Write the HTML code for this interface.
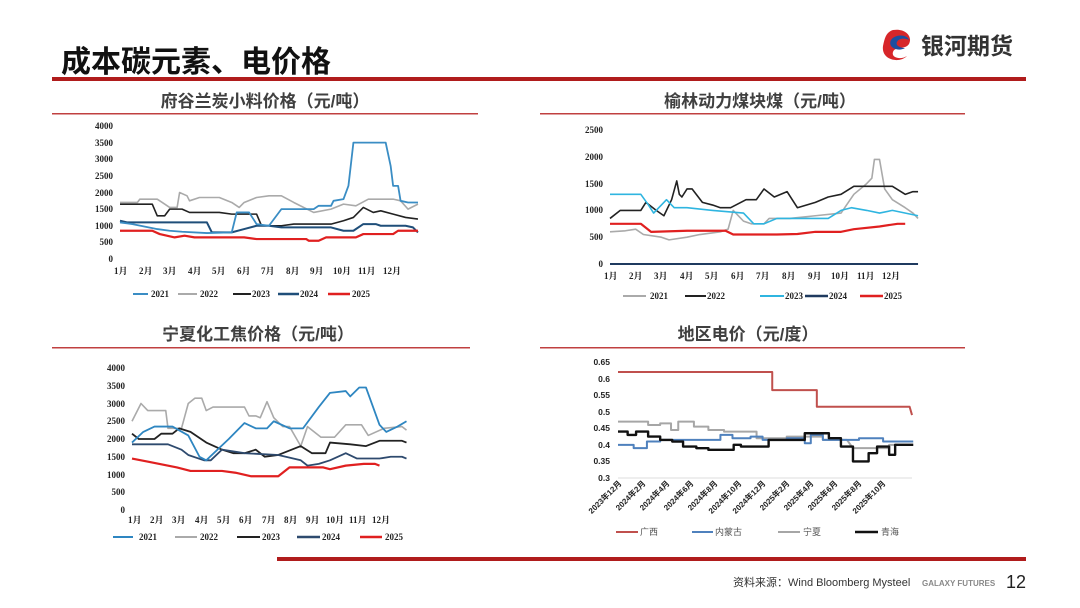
<!DOCTYPE html>
<html><head><meta charset="utf-8"><style>
html,body{margin:0;padding:0;background:#fff;}
svg{display:block}
.t{font-family:"Liberation Sans","Noto Sans CJK SC",sans-serif;}
.ax{font-family:"Liberation Serif","Noto Serif CJK SC",serif;font-weight:bold;font-size:9px;fill:#222;}
.ct{font-family:"Liberation Sans","Noto Sans CJK SC",sans-serif;font-weight:bold;font-size:17px;fill:#404040;}
polyline{fill:none;vector-effect:non-scaling-stroke;stroke-linejoin:round;}
</style></head><body>
<svg width="1080" height="608" viewBox="0 0 1080 608" xmlns="http://www.w3.org/2000/svg">
<!-- header -->
<text x="61" y="72" class="t" style="font-size:30px;font-weight:bold;fill:#111">成本碳元素、电价格</text>
<rect x="52" y="77" width="974" height="4" fill="#b01c1c"/>
<g transform="translate(897,44)">
<path d="M-4,-14 C8,-16 16,-8 12,0 C8,6 -2,2 -4,8 C-6,14 4,16 10,12 C2,20 -16,16 -14,2 C-12,-8 -10,-12 -4,-14Z" fill="#d7262a"/>
<path d="M-6,-4 C-2,-10 10,-10 12,-4 C8,-6 2,-6 0,-2 C-2,2 4,4 8,4 C2,8 -10,4 -6,-4Z" fill="#1d4ea0"/>
</g>
<text x="921" y="54" class="t" style="font-size:23px;font-weight:bold;fill:#333">银河期货</text>

<!-- chart titles -->
<text x="265" y="107" text-anchor="middle" class="ct">府谷兰炭小料价格（元/吨）</text>
<rect x="52" y="113" width="426" height="1.5" fill="#c04040"/>
<text x="760" y="107" text-anchor="middle" class="ct">榆林动力煤块煤（元/吨）</text>
<rect x="540" y="113" width="425" height="1.5" fill="#c04040"/>
<text x="258" y="340" text-anchor="middle" class="ct">宁夏化工焦价格（元/吨）</text>
<rect x="52" y="347" width="418" height="1.5" fill="#c04040"/>
<text x="748" y="340" text-anchor="middle" class="ct">地区电价（元/度）</text>
<rect x="540" y="347" width="425" height="1.5" fill="#c04040"/>

<!-- Chart 1 -->
<g class="ax" text-anchor="end">
<text x="113" y="129">4000</text><text x="113" y="146">3500</text><text x="113" y="162">3000</text><text x="113" y="179">2500</text><text x="113" y="196">2000</text><text x="113" y="212">1500</text><text x="113" y="229">1000</text><text x="113" y="245">500</text><text x="113" y="262">0</text>
</g>
<g class="ax">
<text x="114" y="274">1月</text><text x="139" y="274">2月</text><text x="163" y="274">3月</text><text x="188" y="274">4月</text><text x="212" y="274">5月</text><text x="237" y="274">6月</text><text x="261" y="274">7月</text><text x="286" y="274">8月</text><text x="310" y="274">9月</text><text x="333" y="274">10月</text><text x="358" y="274">11月</text><text x="383" y="274">12月</text>
</g>
<g transform="translate(120,259) scale(24.83,-0.03325)">
<polyline stroke="#aaaaaa" stroke-width="1.6" points="0,1700 0.7,1700 0.8,1800 1.5,1800 1.7,1700 2,1550 2.3,1550 2.4,2000 2.7,1900 2.8,1750 3.2,1850 4,1850 4.5,1700 4.8,1550 5,1700 5.5,1850 6,1900 6.5,1900 7,1700 7.8,1400 8.5,1500 9,1650 9.5,1600 10,1800 11,1800 11.3,1750 11.6,1500 12,1650"/>
<polyline stroke="#222" stroke-width="1.6" points="0,1650 1.3,1650 1.5,1300 1.8,1300 2,1500 2.5,1500 2.8,1400 4,1400 4.5,1350 5.5,1350 5.7,1000 6.5,1000 7,1050 8.5,1050 9,1150 9.4,1250 9.8,1550 10.2,1400 10.5,1450 11,1350 11.5,1250 12,1200"/>
<polyline stroke="#1f4e79" stroke-width="2" points="0,1150 0.3,1100 3.5,1100 3.7,800 4.5,800 5,900 5.5,1000 6,1000 6.5,950 8.5,950 9,850 9.4,850 9.8,1050 10.3,1050 10.5,1000 11.5,1000 11.8,950 12,800"/>
<polyline stroke="#3a8dc4" stroke-width="1.8" points="0,1100 0.5,1050 1.5,900 2,850 2.5,820 3.5,780 4.5,800 4.7,1400 5.2,1400 5.5,1050 6,1000 6.5,1500 7.8,1500 8,1600 8.5,1600 8.6,1750 9,1800 9.2,2200 9.4,3500 10.7,3500 10.9,2800 11,2200 11.2,2200 11.3,1750 11.6,1700 12,1700"/>
<polyline stroke="#e02020" stroke-width="2.2" points="0,850 1.3,850 1.6,750 2.2,650 2.6,700 3,650 5,650 5.5,600 7.5,600 7.6,550 8,550 8.3,650 9.5,650 9.8,750 11,750 11.2,850 12.0,850"/>
</g>
<g class="ax">
<line x1="133" y1="294" x2="148" y2="294" stroke="#3a8dc4" stroke-width="2"/><text x="151" y="297">2021</text>
<line x1="178" y1="294" x2="197" y2="294" stroke="#aaa" stroke-width="2"/><text x="200" y="297">2022</text>
<line x1="233" y1="294" x2="251" y2="294" stroke="#222" stroke-width="2"/><text x="252" y="297">2023</text>
<line x1="278" y1="294" x2="299" y2="294" stroke="#1f4e79" stroke-width="2.5"/><text x="300" y="297">2024</text>
<line x1="328" y1="294" x2="350" y2="294" stroke="#e02020" stroke-width="2.5"/><text x="352" y="297">2025</text>
</g>

<!-- Chart 2 -->
<g class="ax" text-anchor="end">
<text x="603" y="133">2500</text><text x="603" y="160">2000</text><text x="603" y="187">1500</text><text x="603" y="213">1000</text><text x="603" y="240">500</text><text x="603" y="267">0</text>
</g>
<g class="ax">
<text x="604" y="279">1月</text><text x="629" y="279">2月</text><text x="654" y="279">3月</text><text x="680" y="279">4月</text><text x="705" y="279">5月</text><text x="731" y="279">6月</text><text x="756" y="279">7月</text><text x="782" y="279">8月</text><text x="808" y="279">9月</text><text x="831" y="279">10月</text><text x="857" y="279">11月</text><text x="882" y="279">12月</text>
</g>
<g transform="translate(610,264) scale(25.67,-0.0536)">
<polyline stroke="#1f3a5f" stroke-width="2" points="0,0 12,0"/>
<polyline stroke="#aaaaaa" stroke-width="1.6" points="0,600 0.6,620 1,650 1.3,550 2,500 2.3,450 3,500 3.5,550 4.3,600 4.6,650 4.8,1000 5.2,800 5.5,750 6,750 6.2,850 7,850 8,900 9,950 9.5,1300 10,1500 10.2,1600 10.3,1950 10.5,1950 10.7,1400 11,1200 11.5,1050 11.8,950 12,850"/>
<polyline stroke="#222" stroke-width="1.6" points="0,850 0.4,1000 1.2,1000 1.4,1150 1.8,1000 2.1,900 2.4,1200 2.6,1550 2.7,1300 2.8,1250 3,1400 3.2,1400 3.6,1150 4,1100 4.3,1050 4.7,1050 5.3,1200 5.7,1200 6,1400 6.4,1250 6.9,1350 7.3,1050 8,1150 8.5,1250 9,1300 9.5,1450 11,1450 11.5,1300 11.8,1350 12,1350"/>
<polyline stroke="#2fb5e0" stroke-width="1.6" points="0,1300 1.2,1300 1.5,1100 1.7,950 2,1100 2.2,1200 2.5,1050 3,1050 4,1000 5.2,950 5.6,750 6,750 6.5,850 7.5,850 8.5,850 9,1000 9.4,1050 10,1000 10.5,950 11,1000 12,900"/>
<polyline stroke="#e02020" stroke-width="2.2" points="0,750 1.2,750 1.6,600 3,620 4.5,620 4.8,550 6.5,550 7.3,560 8,600 9,600 9.5,650 10.5,700 11.2,750 11.5,750"/>
</g>
<g class="ax">
<line x1="623" y1="296" x2="646" y2="296" stroke="#aaa" stroke-width="2"/><text x="650" y="299">2021</text>
<line x1="685" y1="296" x2="706" y2="296" stroke="#222" stroke-width="2"/><text x="707" y="299">2022</text>
<line x1="760" y1="296" x2="784" y2="296" stroke="#2fb5e0" stroke-width="2"/><text x="785" y="299">2023</text>
<line x1="805" y1="296" x2="828" y2="296" stroke="#1f3a5f" stroke-width="2.5"/><text x="829" y="299">2024</text>
<line x1="860" y1="296" x2="883" y2="296" stroke="#e02020" stroke-width="2.5"/><text x="884" y="299">2025</text>
</g>

<!-- Chart 3 -->
<g class="ax" text-anchor="end">
<text x="125" y="371">4000</text><text x="125" y="389">3500</text><text x="125" y="407">3000</text><text x="125" y="424">2500</text><text x="125" y="442">2000</text><text x="125" y="460">1500</text><text x="125" y="478">1000</text><text x="125" y="495">500</text><text x="125" y="513">0</text>
</g>
<g class="ax">
<text x="128" y="523">1月</text><text x="150" y="523">2月</text><text x="172" y="523">3月</text><text x="195" y="523">4月</text><text x="217" y="523">5月</text><text x="239" y="523">6月</text><text x="262" y="523">7月</text><text x="284" y="523">8月</text><text x="306" y="523">9月</text><text x="326" y="523">10月</text><text x="349" y="523">11月</text><text x="372" y="523">12月</text>
</g>
<g transform="translate(132,510) scale(22.5,-0.0355)">
<polyline stroke="#aaaaaa" stroke-width="1.6" points="0,2500 0.4,3000 0.7,2800 1.5,2800 1.6,2300 2.2,2300 2.5,3000 2.8,3150 3.1,3150 3.3,2800 3.6,2900 5,2900 5.2,2650 5.5,2650 5.7,2600 6,3050 6.3,2600 6.7,2350 7,2350 7.5,1800 7.8,2350 8.4,2050 9,2050 9.5,2400 10.2,2400 10.5,2100 11.2,2300 12,2350 12.2,2250"/>
<polyline stroke="#222" stroke-width="1.8" points="0,2150 0.3,2000 1,2000 1.3,2150 1.8,2150 2.1,2300 2.6,2200 3.3,1900 4,1700 4.5,1600 5,1600 5.5,1700 5.9,1500 6.5,1550 7.5,1800 8,1600 8.6,1600 8.8,1900 9.7,1850 10.4,1800 11,1950 12,1950 12.2,1900"/>
<polyline stroke="#2e4a6e" stroke-width="1.8" points="0,1850 1.6,1850 2.2,1700 2.5,1550 3.2,1400 3.5,1400 4,1700 5,1600 6.5,1550 7.5,1400 7.8,1250 8.3,1300 8.8,1400 9.5,1600 10,1450 11,1450 11.5,1500 12,1500 12.2,1450"/>
<polyline stroke="#2e86c1" stroke-width="1.8" points="0,1900 0.5,2200 1,2350 1.8,2350 2.5,2100 3,1500 3.3,1400 3.8,1700 4.3,2000 5,2450 5.5,2300 6,2300 6.3,2500 7,2300 7.6,2300 8.3,2900 8.8,3300 9.5,3350 9.7,3200 10.1,3450 10.4,3450 11,2400 11.3,2200 11.8,2350 12.2,2500"/>
<polyline stroke="#e02020" stroke-width="2.2" points="0,1450 0.8,1350 2,1200 2.6,1100 4,1100 4.6,1050 5.3,950 6.5,950 7,1200 8.5,1200 8.8,1150 9.5,1250 10.3,1300 10.8,1300 11,1250"/>
</g>
<g class="ax">
<line x1="113" y1="537" x2="133" y2="537" stroke="#2e86c1" stroke-width="2"/><text x="139" y="540">2021</text>
<line x1="175" y1="537" x2="197" y2="537" stroke="#aaa" stroke-width="2"/><text x="200" y="540">2022</text>
<line x1="237" y1="537" x2="260" y2="537" stroke="#222" stroke-width="2"/><text x="262" y="540">2023</text>
<line x1="297" y1="537" x2="320" y2="537" stroke="#2e4a6e" stroke-width="2.5"/><text x="322" y="540">2024</text>
<line x1="360" y1="537" x2="382" y2="537" stroke="#e02020" stroke-width="2.5"/><text x="385" y="540">2025</text>
</g>

<!-- Chart 4 -->
<g class="ax" text-anchor="end" style="font-family:'Liberation Sans',sans-serif;font-size:8.5px">
<text x="610" y="365">0.65</text><text x="610" y="382">0.6</text><text x="610" y="398">0.55</text><text x="610" y="415">0.5</text><text x="610" y="431">0.45</text><text x="610" y="448">0.4</text><text x="610" y="464">0.35</text><text x="610" y="481">0.3</text>
</g>
<line x1="618" y1="478" x2="912" y2="478" stroke="#ddd" stroke-width="1"/>
<g class="ax" text-anchor="end" style="font-family:'Liberation Sans','Noto Sans CJK SC',sans-serif;font-size:8px">
<text transform="translate(622,484) rotate(-45)">2023年12月</text>
<text transform="translate(646,484) rotate(-45)">2024年2月</text>
<text transform="translate(670,484) rotate(-45)">2024年4月</text>
<text transform="translate(694,484) rotate(-45)">2024年6月</text>
<text transform="translate(718,484) rotate(-45)">2024年8月</text>
<text transform="translate(742,484) rotate(-45)">2024年10月</text>
<text transform="translate(766,484) rotate(-45)">2024年12月</text>
<text transform="translate(790,484) rotate(-45)">2025年2月</text>
<text transform="translate(814,484) rotate(-45)">2025年4月</text>
<text transform="translate(838,484) rotate(-45)">2025年6月</text>
<text transform="translate(862,484) rotate(-45)">2025年8月</text>
<text transform="translate(886,484) rotate(-45)">2025年10月</text>
</g>
<g transform="translate(618,478) scale(12.05,-331.4) translate(0,-0.3)">
<polyline stroke="#c0504d" stroke-width="2" points="0,0.62 12.8,0.62 12.8,0.565 16.5,0.565 16.5,0.515 24.2,0.515 24.4,0.49"/>
<polyline stroke="#a6a6a6" stroke-width="2" points="0,0.47 2.5,0.47 2.5,0.46 3.5,0.46 3.5,0.465 4.4,0.465 4.4,0.445 5,0.445 5,0.47 6.3,0.47 6.3,0.455 7.5,0.455 7.5,0.445 8.8,0.445 8.8,0.44 11.5,0.44 11.5,0.42 14,0.42 14,0.425 17,0.425 17,0.415 19,0.415 19.5,0.39 22.5,0.39 22.5,0.4 24.5,0.4"/>
<polyline stroke="#4f81bd" stroke-width="2" points="0,0.4 1.3,0.4 1.3,0.39 2.4,0.39 2.4,0.41 3.5,0.41 3.5,0.415 8.5,0.415 8.5,0.43 9.5,0.43 9.5,0.42 11,0.42 11,0.425 12,0.425 12,0.415 14,0.415 14,0.42 15.5,0.42 15.5,0.405 16,0.405 16,0.43 17,0.43 17,0.415 20,0.415 20,0.42 22,0.42 22,0.41 24.5,0.41"/>
<polyline stroke="#111" stroke-width="2.4" points="0,0.44 0.8,0.44 0.8,0.43 1.5,0.43 1.5,0.44 2.5,0.44 2.5,0.425 3.5,0.425 3.5,0.415 4.5,0.415 4.5,0.41 5.4,0.41 5.4,0.395 6.5,0.395 6.5,0.39 7.5,0.39 7.5,0.385 9.6,0.385 9.6,0.4 10.2,0.4 10.2,0.395 12.5,0.395 12.5,0.415 15.5,0.415 15.5,0.435 17.5,0.435 17.5,0.42 18.5,0.42 18.5,0.395 19.5,0.395 19.5,0.35 20.8,0.35 20.8,0.375 21.5,0.375 21.5,0.395 22.5,0.395 22.5,0.37 23,0.37 23,0.4 24.5,0.4"/>
</g>
<g style="font-family:'Liberation Sans','Noto Sans CJK SC',sans-serif;font-size:9px;fill:#555">
<line x1="616" y1="532" x2="638" y2="532" stroke="#c0504d" stroke-width="2"/><text x="640" y="535">广西</text>
<line x1="692" y1="532" x2="713" y2="532" stroke="#4f81bd" stroke-width="2"/><text x="715" y="535">内蒙古</text>
<line x1="778" y1="532" x2="800" y2="532" stroke="#a6a6a6" stroke-width="2"/><text x="803" y="535">宁夏</text>
<line x1="855" y1="532" x2="878" y2="532" stroke="#111" stroke-width="2.5"/><text x="881" y="535">青海</text>
</g>

<!-- footer -->
<rect x="277" y="557" width="749" height="4" fill="#b01c1c"/>
<text x="733" y="586" class="t" style="font-size:11px;fill:#333">资料来源：Wind Bloomberg Mysteel</text>
<text x="922" y="586" class="t" style="font-size:8px;font-weight:bold;fill:#888">GALAXY FUTURES</text>
<text x="1006" y="588" class="t" style="font-size:18px;fill:#222">12</text>
</svg>
</body></html>
